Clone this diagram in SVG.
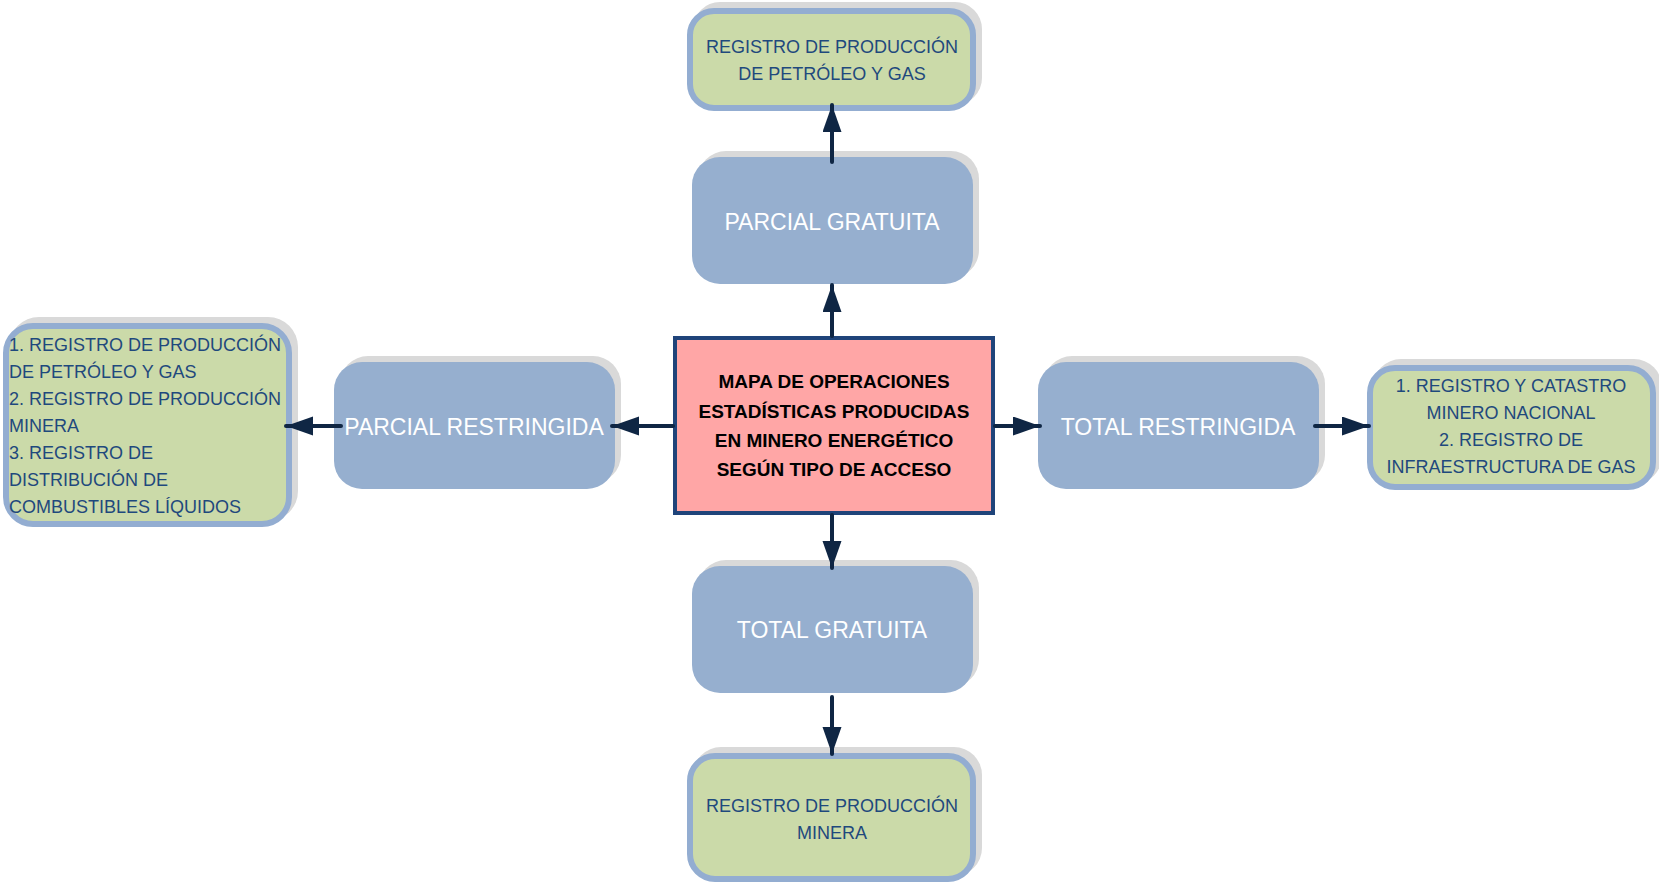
<svg xmlns="http://www.w3.org/2000/svg" width="1659" height="885" viewBox="0 0 1659 885">
<style>
.shadow{fill:#D9D9D9}
.blue{fill:#96AFCF}
.green{fill:#CBDAA9;stroke:#93ADD1;stroke-width:6}
.center{fill:#FFA6A6;stroke:#1F447A;stroke-width:4}
.lbl{font-family:"Liberation Sans",Arial,sans-serif;font-size:23px;fill:#FFFFFF;text-anchor:middle}
.gt{font-family:"Liberation Sans",Arial,sans-serif;font-size:18px;fill:#1F497D}
.mid{text-anchor:middle}
.ct{font-family:"Liberation Sans",Arial,sans-serif;font-size:19px;font-weight:bold;fill:#000000;text-anchor:middle}
.conn{stroke:#0F2644;stroke-width:4;stroke-linecap:round;fill:none;marker-end:url(#ah)}
</style>
<defs>
<marker id="ah" markerUnits="userSpaceOnUse" markerWidth="28" markerHeight="20" refX="27" refY="9.5" orient="auto">
<path d="M0,0 L27,9.5 L0,19 Z" fill="#0F2644"/>
</marker>
</defs>
<rect width="1659" height="885" fill="#FFFFFF"/>

<g id="n-top-green">
<rect class="shadow" x="693" y="2" width="289" height="103" rx="27"/>
<rect class="green" x="690" y="11" width="283" height="97" rx="24"/>
<text class="gt mid" x="832" y="53">REGISTRO DE PRODUCCIÓN</text>
<text class="gt mid" x="832" y="80">DE PETRÓLEO Y GAS</text>
</g>

<g id="n-parcial-gratuita">
<rect class="shadow" x="698" y="151" width="281" height="127" rx="28"/>
<rect class="blue" x="692" y="157" width="281" height="127" rx="28"/>
<text class="lbl" x="832" y="230">PARCIAL GRATUITA</text>
</g>

<g id="n-center">
<rect class="center" x="675" y="338" width="318" height="175"/>
<text class="ct" x="834" y="388">MAPA DE OPERACIONES</text>
<text class="ct" x="834" y="418">ESTADÍSTICAS PRODUCIDAS</text>
<text class="ct" x="834" y="447">EN MINERO ENERGÉTICO</text>
<text class="ct" x="834" y="476">SEGÚN TIPO DE ACCESO</text>
</g>

<g id="n-parcial-restringida">
<rect class="shadow" x="340" y="356" width="281" height="127" rx="28"/>
<rect class="blue" x="334" y="362" width="281" height="127" rx="28"/>
<text class="lbl" x="474" y="435">PARCIAL RESTRINGIDA</text>
</g>

<g id="n-total-restringida">
<rect class="shadow" x="1044" y="356" width="281" height="127" rx="28"/>
<rect class="blue" x="1038" y="362" width="281" height="127" rx="28"/>
<text class="lbl" x="1178" y="435">TOTAL RESTRINGIDA</text>
</g>

<g id="n-total-gratuita">
<rect class="shadow" x="698" y="560" width="281" height="127" rx="28"/>
<rect class="blue" x="692" y="566" width="281" height="127" rx="28"/>
<text class="lbl" x="832" y="638">TOTAL GRATUITA</text>
</g>

<g id="n-left-green">
<rect class="shadow" x="9" y="317" width="289" height="204" rx="30"/>
<rect class="green" x="6" y="326" width="283" height="198" rx="27"/>
<text class="gt" x="9" y="351">1. REGISTRO DE PRODUCCIÓN</text>
<text class="gt" x="9" y="378">DE PETRÓLEO Y GAS</text>
<text class="gt" x="9" y="405">2. REGISTRO DE PRODUCCIÓN</text>
<text class="gt" x="9" y="432">MINERA</text>
<text class="gt" x="9" y="459">3. REGISTRO DE</text>
<text class="gt" x="9" y="486">DISTRIBUCIÓN DE</text>
<text class="gt" x="9" y="513">COMBUSTIBLES LÍQUIDOS</text>
</g>

<g id="n-right-green">
<rect class="shadow" x="1373" y="359" width="289" height="125" rx="28"/>
<rect class="green" x="1370" y="368" width="283" height="119" rx="25"/>
<text class="gt mid" x="1511" y="392">1. REGISTRO Y CATASTRO</text>
<text class="gt mid" x="1511" y="419">MINERO NACIONAL</text>
<text class="gt mid" x="1511" y="446">2. REGISTRO DE</text>
<text class="gt mid" x="1511" y="473">INFRAESTRUCTURA DE GAS</text>
</g>

<g id="n-bottom-green">
<rect class="shadow" x="693" y="747" width="289" height="129" rx="28"/>
<rect class="green" x="690" y="756" width="283" height="123" rx="25"/>
<text class="gt mid" x="832" y="812">REGISTRO DE PRODUCCIÓN</text>
<text class="gt mid" x="832" y="839">MINERA</text>
</g>

<g id="connectors">
<line class="conn" x1="832" y1="336" x2="832" y2="285"/>
<line class="conn" x1="832" y1="162" x2="832" y2="105"/>
<line class="conn" x1="832" y1="515" x2="832" y2="568"/>
<line class="conn" x1="832" y1="697" x2="832" y2="754"/>
<line class="conn" x1="673" y1="426" x2="612" y2="426"/>
<line class="conn" x1="341" y1="426" x2="286" y2="426"/>
<line class="conn" x1="995" y1="426" x2="1040" y2="426"/>
<line class="conn" x1="1315" y1="426" x2="1369" y2="426"/>
</g>
</svg>
